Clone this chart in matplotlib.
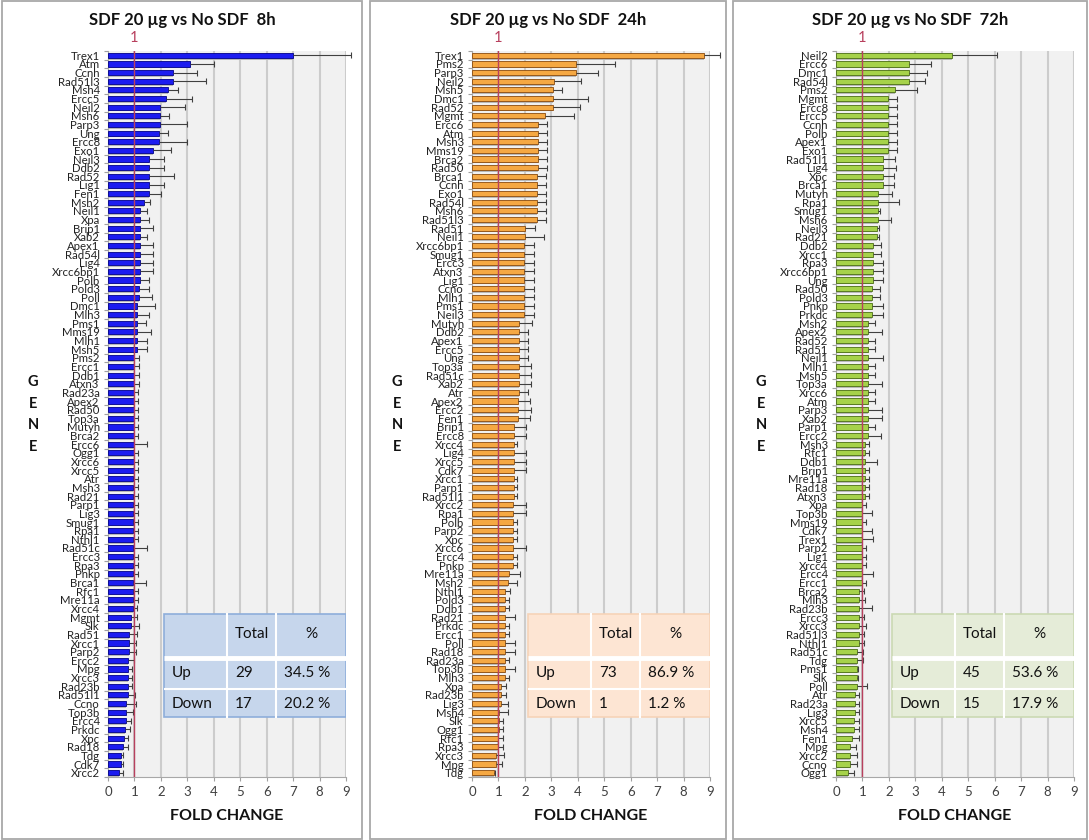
import matplotlib

matplotlib.use("Agg")

import matplotlib.pyplot as plt
from matplotlib.patches import Rectangle
import numpy as np

plt.rcParams["font.family"] = ["Lato", "DejaVu Sans"]

# ---- 8h ----
genes_8h = ["Trex1", "Atm", "Ccnh", "Rad51l3", "Msh4", "Ercc5", "Neil2", "Msh6", "Parp3", "Ung",
            "Ercc8", "Exo1", "Neil3", "Ddb2", "Rad52", "Lig1", "Fen1", "Msh2", "Neil1", "Xpa",
            "Brip1", "Xab2", "Apex1", "Rad54l", "Lig4", "Xrcc6bp1", "Polb", "Pold3", "Poll", "Dmc1",
            "Mlh3", "Pms1", "Mms19", "Mlh1", "Msh5", "Pms2", "Ercc1", "Ddb1", "Atxn3", "Rad23a",
            "Apex2", "Rad50", "Top3a", "Mutyh", "Brca2", "Ercc6", "Ogg1", "Xrcc6", "Xrcc5", "Atr",
            "Msh3", "Rad21", "Parp1", "Lig3", "Smug1", "Rpa1", "Nthl1", "Rad51c", "Ercc3", "Rpa3",
            "Pnkp", "Brca1", "Rfc1", "Mre11a", "Xrcc4", "Mgmt", "Slk", "Rad51", "Xrcc1", "Parp2",
            "Ercc2", "Mpg", "Xrcc3", "Rad23b", "Rad51l1", "Ccno", "Top3b", "Ercc4", "Prkdc", "Xpc",
            "Rad18", "Tdg", "Cdk7", "Xrcc2"]
fold_8h = [7.00, 3.09, 2.46, 2.46, 2.25, 2.18, 1.95, 1.95, 1.95, 1.92,
           1.92, 1.72, 1.54, 1.54, 1.54, 1.54, 1.54, 1.37, 1.22, 1.22,
           1.22, 1.22, 1.22, 1.22, 1.22, 1.22, 1.22, 1.19, 1.19, 1.09,
           1.09, 1.09, 1.09, 1.09, 1.09, 0.99, 0.99, 0.99, 0.99, 0.99,
           0.99, 0.99, 0.99, 0.99, 0.99, 0.99, 0.99, 0.99, 0.99, 0.96,
           0.96, 0.96, 0.96, 0.96, 0.96, 0.96, 0.96, 0.96, 0.96, 0.96,
           0.96, 0.96, 0.96, 0.96, 0.96, 0.86, 0.86, 0.78, 0.78, 0.78,
           0.76, 0.76, 0.76, 0.76, 0.76, 0.68, 0.68, 0.68, 0.63, 0.61,
           0.58, 0.48, 0.48, 0.41]
err_8h = [2.20, 0.92, 0.92, 1.25, 0.38, 1.01, 0.95, 0.37, 1.04, 0.35,
          1.07, 0.66, 0.57, 0.57, 0.94, 0.57, 0.47, 0.20, 0.27, 0.34,
          0.48, 0.25, 0.48, 0.48, 0.48, 0.48, 0.32, 0.35, 0.48, 0.69,
          0.46, 0.33, 0.52, 0.38, 0.40, 0.17, 0.17, 0.17, 0.17, 0.15,
          0.15, 0.14, 0.14, 0.14, 0.13, 0.50, 0.15, 0.15, 0.15, 0.17,
          0.17, 0.17, 0.17, 0.17, 0.17, 0.17, 0.17, 0.52, 0.17, 0.17,
          0.17, 0.47, 0.17, 0.17, 0.14, 0.23, 0.33, 0.30, 0.26, 0.26,
          0.24, 0.13, 0.13, 0.13, 0.25, 0.38, 0.26, 0.20, 0.19, 0.16,
          0.19, 0.08, 0.08, 0.17]

# ---- 24h ----
genes_24h = ["Trex1", "Pms2", "Parp3", "Neil2", "Msh5", "Dmc1", "Rad52", "Mgmt", "Ercc6", "Atm",
             "Msh3", "Mms19", "Brca2", "Rad50", "Brca1", "Ccnh", "Exo1", "Rad54l", "Msh6", "Rad51l3",
             "Rad51", "Neil1", "Xrcc6bp1", "Smug1", "Ercc3", "Atxn3", "Lig1", "Ccno", "Mlh1", "Pms1",
             "Neil3", "Mutyh", "Ddb2", "Apex1", "Ercc5", "Ung", "Top3a", "Rad51c", "Xab2", "Atr",
             "Apex2", "Ercc2", "Fen1", "Brip1", "Ercc8", "Xrcc4", "Lig4", "Xrcc5", "Cdk7", "Xrcc1",
             "Parp1", "Rad51l1", "Xrcc2", "Rpa1", "Polb", "Parp2", "Xpc", "Xrcc6", "Ercc4", "Pnkp",
             "Mre11a", "Msh2", "Nthl1", "Pold3", "Ddb1", "Rad21", "Prkdc", "Ercc1", "Poll", "Rad18",
             "Rad23a", "Top3b", "Mlh3", "Xpa", "Rad23b", "Lig3", "Msh4", "Slk", "Ogg1", "Rfc1",
             "Rpa3", "Xrcc3", "Mpg", "Tdg"]
fold_24h = [8.78, 3.92, 3.92, 3.10, 3.08, 3.08, 3.08, 2.76, 2.51, 2.48,
            2.48, 2.48, 2.48, 2.48, 2.47, 2.47, 2.47, 2.47, 2.47, 2.47,
            1.99, 1.99, 1.97, 1.97, 1.97, 1.97, 1.97, 1.97, 1.97, 1.97,
            1.95, 1.77, 1.77, 1.77, 1.77, 1.77, 1.76, 1.76, 1.76, 1.76,
            1.75, 1.75, 1.75, 1.59, 1.59, 1.58, 1.58, 1.58, 1.58, 1.57,
            1.57, 1.57, 1.56, 1.56, 1.56, 1.56, 1.56, 1.56, 1.56, 1.56,
            1.40, 1.38, 1.25, 1.25, 1.25, 1.25, 1.23, 1.23, 1.23, 1.23,
            1.23, 1.23, 1.23, 1.11, 1.11, 1.10, 1.03, 1.01, 1.01, 1.00,
            1.00, 0.92, 0.91, 0.82]
err_24h = [0.59, 1.50, 0.83, 1.04, 0.34, 1.31, 1.00, 1.09, 0.31, 0.34,
           0.34, 0.35, 0.34, 0.34, 0.33, 0.33, 0.33, 0.33, 0.32, 0.32,
           0.40, 0.72, 0.38, 0.38, 0.37, 0.37, 0.37, 0.37, 0.37, 0.37,
           0.39, 0.48, 0.34, 0.34, 0.34, 0.34, 0.46, 0.46, 0.46, 0.34,
           0.46, 0.47, 0.46, 0.47, 0.47, 0.13, 0.47, 0.47, 0.47, 0.15,
           0.13, 0.13, 0.49, 0.48, 0.14, 0.14, 0.13, 0.48, 0.14, 0.14,
           0.41, 0.32, 0.18, 0.14, 0.14, 0.36, 0.16, 0.16, 0.38, 0.38,
           0.16, 0.38, 0.16, 0.19, 0.19, 0.27, 0.34, 0.17, 0.17, 0.18,
           0.18, 0.30, 0.22, 0.04]

# ---- 72h ----
genes_72h = ["Neil2", "Ercc6", "Dmc1", "Rad54l", "Pms2", "Mgmt", "Ercc8", "Ercc5", "Ccnh", "Polb",
             "Apex1", "Exo1", "Rad51l1", "Lig4", "Xpc", "Brca1", "Mutyh", "Rpa1", "Smug1", "Msh6",
             "Neil3", "Rad21", "Ddb2", "Xrcc1", "Rpa3", "Xrcc6bp1", "Ung", "Rad50", "Pold3", "Pnkp",
             "Prkdc", "Msh2", "Apex2", "Rad52", "Rad51", "Neil1", "Mlh1", "Msh5", "Top3a", "Xrcc6",
             "Atm", "Parp3", "Xab2", "Parp1", "Ercc2", "Msh3", "Rfc1", "Ddb1", "Brip1", "Mre11a",
             "Rad18", "Atxn3", "Xpa", "Top3b", "Mms19", "Cdk7", "Trex1", "Parp2", "Lig1", "Xrcc4",
             "Ercc4", "Ercc1", "Brca2", "Mlh3", "Rad23b", "Ercc3", "Xrcc3", "Rad51l3", "Nthl1", "Rad51c",
             "Tdg", "Pms1", "Slk", "Poll", "Atr", "Rad23a", "Lig3", "Xrcc5", "Msh4", "Fen1",
             "Mpg", "Xrcc2", "Ccno", "Ogg1"]
fold_72h = [4.37, 2.76, 2.76, 2.75, 2.23, 1.98, 1.98, 1.98, 1.96, 1.96,
            1.96, 1.96, 1.79, 1.76, 1.76, 1.76, 1.57, 1.57, 1.57, 1.57,
            1.56, 1.56, 1.39, 1.39, 1.39, 1.39, 1.39, 1.37, 1.37, 1.37,
            1.37, 1.22, 1.22, 1.22, 1.22, 1.22, 1.22, 1.22, 1.22, 1.22,
            1.22, 1.21, 1.21, 1.21, 1.21, 1.08, 1.08, 1.08, 1.08, 1.08,
            1.08, 1.08, 0.98, 0.98, 0.98, 0.98, 0.98, 0.98, 0.98, 0.98,
            0.97, 0.97, 0.88, 0.88, 0.88, 0.86, 0.86, 0.86, 0.86, 0.78,
            0.78, 0.78, 0.78, 0.78, 0.71, 0.71, 0.71, 0.68, 0.68, 0.60,
            0.53, 0.53, 0.53, 0.45]
err_72h = [1.70, 0.82, 0.67, 0.61, 0.82, 0.34, 0.34, 0.34, 0.33, 0.33,
           0.33, 0.33, 0.44, 0.51, 0.43, 0.43, 0.55, 0.82, 0.08, 0.52,
           0.05, 0.05, 0.32, 0.32, 0.40, 0.40, 0.40, 0.31, 0.31, 0.42,
           0.40, 0.27, 0.52, 0.27, 0.27, 0.54, 0.27, 0.27, 0.52, 0.27,
           0.27, 0.53, 0.53, 0.27, 0.50, 0.15, 0.15, 0.46, 0.15, 0.15,
           0.15, 0.15, 0.15, 0.37, 0.15, 0.37, 0.41, 0.15, 0.15, 0.15,
           0.44, 0.16, 0.18, 0.20, 0.49, 0.21, 0.27, 0.21, 0.21, 0.25,
           0.25, 0.04, 0.04, 0.38, 0.17, 0.17, 0.17, 0.18, 0.18, 0.28,
           0.23, 0.28, 0.28, 0.24]

# summary tables: Up / Down counts and percentages
counts_8h, pcts_8h = [29, 17], ["34.5 %", "20.2 %"]
counts_24h, pcts_24h = [73, 1], ["86.9 %", "1.2 %"]
counts_72h, pcts_72h = [45, 15], ["53.6 %", "17.9 %"]

W, H = 1089, 840
fig = plt.figure(figsize=(W / 100, H / 100), dpi=100)


def px(x0, y0, w, h):
    """pixel box (top-left origin) -> figure fraction rect"""
    return [x0 / W, 1 - (y0 + h) / H, w / W, h / H]


def draw_panel(left, box, title, genes, fold, err, bar_c, edge_c, tbl_c, tbl_edge, counts, pcts):
    bx0, bx1 = box
    # panel frame
    fig.add_artist(Rectangle((bx0 / W, 1 / H), (bx1 - bx0) / W, 838 / H, transform=fig.transFigure,
                             fill=False, ec="#a8a8a8", lw=1.3))
    fig.text((bx0 + bx1) / 2 / W, 1 - 20 / H, title, ha="center", va="center",
             fontsize=12, fontweight="bold", color="#111111")
    for i, ch in enumerate("GENE"):
        fig.text((left - 75) / W, 1 - (382 + 21.7 * i) / H, ch, ha="center", va="center",
                 fontsize=10.5, fontweight="bold", color="#111111")

    ax = fig.add_axes(px(left, 51, 238, 726))
    n = len(genes)
    y = np.arange(n)
    ax.set_facecolor("#f1f1f1")
    ax.set_xlim(0, 9)
    ax.set_ylim(n - 0.5, -0.5)

    # shadow under each bar, then the bar itself
    ax.barh(y + 0.22, fold, height=0.55, color="#b9b9b9", zorder=2)
    ax.barh(y, fold, height=0.6, color=bar_c, edgecolor=edge_c, linewidth=0.6, zorder=3)

    # upper error bars only
    fold = np.asarray(fold)
    hi = fold + np.asarray(err)
    ax.hlines(y, fold, hi, color="#404040", lw=0.8, zorder=4, clip_on=False)
    ax.plot(hi, y, ls="none", marker="|", ms=4, mew=0.8, color="#404040", zorder=4, clip_on=False)

    ax.axvline(1, color="#b8405e", lw=1.0, zorder=5)
    ax.text(1, -1.2, "1", ha="center", va="bottom", color="#b8405e", fontsize=10.5)

    ax.set_xticks(range(10))
    ax.tick_params(axis="x", labelsize=9.5, colors="#404040", length=3, width=0.8, color="#a0a0a0")
    ax.set_yticks(y)
    ax.set_yticklabels(genes, fontsize=8.2, color="#222222")
    ax.tick_params(axis="y", length=0, pad=6)
    ax.set_yticks(np.arange(n + 1) - 0.5, minor=True)
    ax.tick_params(axis="y", which="minor", length=3, width=0.8, color="#a0a0a0")
    ax.grid(axis="x", color="#cccccc", lw=1.5, zorder=1)
    ax.set_axisbelow(True)
    for s in ["top", "right"]:
        ax.spines[s].set_visible(False)
    for s in ["left", "bottom"]:
        ax.spines[s].set_color("#a8a8a8")
    ax.set_xlabel("FOLD CHANGE", fontsize=11.5, fontweight="bold", color="#111111", labelpad=8)

    # Up / Down summary table
    tx0, tx1, c1, c2 = 2.1, 9.0, 4.5, 6.35
    ty0, ty1 = 64.6, 76.6
    ax.add_patch(Rectangle((tx0, ty0), tx1 - tx0, ty1 - ty0, fc=tbl_c, ec=tbl_edge, lw=1.2, zorder=6))
    ax.plot([tx0, tx1], [69.7, 69.7], color="white", lw=3.5, zorder=7, solid_capstyle="butt")
    ax.plot([tx0, tx1], [73.3, 73.3], color="white", lw=1.5, zorder=7, solid_capstyle="butt")
    for cx in (c1, c2):
        ax.plot([cx, cx], [ty0, ty1], color="white", lw=1.5, zorder=7)
    kw = dict(va="center", fontsize=11, color="#111111", zorder=8)
    ax.text((c1 + c2) / 2, 67.0, "Total", ha="center", **kw)
    ax.text((c2 + tx1) / 2, 67.0, "%", ha="center", **kw)
    for k, (lab, yy) in enumerate([("Up", 71.5), ("Down", 75.0)]):
        ax.text(tx0 + 0.3, yy, lab, ha="left", **kw)
        ax.text(c1 + 0.3, yy, str(counts[k]), ha="left", **kw)
        ax.text(c2 + 0.3, yy, pcts[k], ha="left", **kw)
    return ax


draw_panel(108, (2, 362), "SDF 20 µg vs No SDF  8h", genes_8h, fold_8h, err_8h,
           "#1c1cf0", "#00008a", "#c6d6ec", "#8eaedb", counts_8h, pcts_8h)
draw_panel(472, (370, 726), "SDF 20 µg vs No SDF  24h", genes_24h, fold_24h, err_24h,
           "#f5a843", "#8a4a0c", "#fde5d3", "#f6d3b8", counts_24h, pcts_24h)
draw_panel(836, (733, 1087), "SDF 20 µg vs No SDF  72h", genes_72h, fold_72h, err_72h,
           "#a6d24a", "#4a6e12", "#e5ecd8", "#cbd9b3", counts_72h, pcts_72h)

fig.savefig("out.png", dpi=100)
